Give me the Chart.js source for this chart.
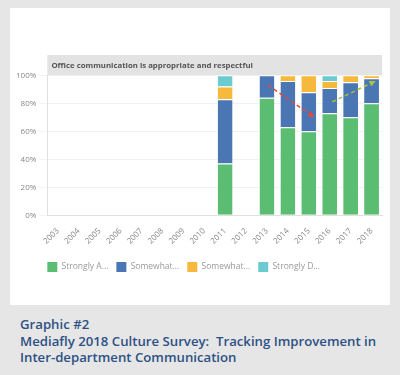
<!DOCTYPE html>
<html>
<head>
<meta charset="utf-8">
<script src="https://cdn.jsdelivr.net/npm/chart.js@4"></script>
<style>
  body { margin: 0; background: #e6e6e6; width: 400px; height: 375px; overflow: hidden; font-family: "Open Sans", sans-serif; }
  #panel { position: absolute; left: 10px; top: 8px; width: 380px; height: 297px; background: #fff; }
  #caption { position: absolute; left: 20px; top: 316px; color: #2d5185; font-size: 13.2px; font-weight: 600; line-height: 16.5px; white-space: pre; }
</style>
</head>
<body>
<div id="panel"><canvas id="chart" width="380" height="297"></canvas></div>
<div id="caption">Graphic #2
Mediafly 2018 Culture Survey:  Tracking Improvement in
Inter-department Communication</div>
<script>
const years = ['2003','2004','2005','2006','2007','2008','2009','2010','2011','2012','2013','2014','2015','2016','2017','2018'];
const stronglyAgree     = [null,null,null,null,null,null,null,null,37,null,84,63,60,73,70,80];
const somewhatAgree     = [null,null,null,null,null,null,null,null,46,null,16,33,28,18,25,18];
const somewhatDisagree  = [null,null,null,null,null,null,null,null,9,null,0,4,12,5,5,2];
const stronglyDisagree  = [null,null,null,null,null,null,null,null,8,null,0,0,0,4,0,0];
const yTicks = [0, 20, 40, 60, 80, 100];

// trend arrows: [year, offset within category, value]
const arrows = [
    { from: ['2013', 0.05, 93], to: ['2015', 0.27, 70], color: '#e8473b' },
    { from: ['2016', 0.12, 81], to: ['2018', 0.2, 96], color: '#a8c43c' }
];

const titleBg = {
    id: 'titleBg',
    beforeDraw(chart) {
        const t = chart.titleBlock;
        const ctx = chart.ctx;
        ctx.save();
        ctx.fillStyle = '#e3e3e3';
        ctx.fillRect(chart.chartArea.left, t.top, chart.chartArea.right - chart.chartArea.left, chart.chartArea.top - t.top);
        ctx.restore();
    }
};

// line the legend up with the left edge of the plot
const legendLeft = {
    id: 'legendLeft',
    afterLayout(chart) {
        const lg = chart.legend;
        const shift = lg.left - (chart.chartArea.left - lg.options.labels.padding);
        lg.left -= shift;
        lg.right -= shift;
    }
};

const trendArrows = {
    id: 'trendArrows',
    afterDatasetsDraw(chart) {
        const xs = chart.scales.x, ys = chart.scales.y;
        const w = xs.width / years.length;
        const ctx = chart.ctx;
        arrows.forEach(a => {
            const x1 = xs.getPixelForValue(years.indexOf(a.from[0])) + a.from[1] * w;
            const y1 = ys.getPixelForValue(a.from[2]);
            const x2 = xs.getPixelForValue(years.indexOf(a.to[0])) + a.to[1] * w;
            const y2 = ys.getPixelForValue(a.to[2]);
            const ang = Math.atan2(y2 - y1, x2 - x1);
            ctx.save();
            ctx.strokeStyle = a.color;
            ctx.fillStyle = a.color;
            ctx.lineWidth = 1.5;
            ctx.setLineDash([4, 3]);
            ctx.beginPath();
            ctx.moveTo(x1, y1);
            ctx.lineTo(x2 - 5 * Math.cos(ang), y2 - 5 * Math.sin(ang));
            ctx.stroke();
            ctx.setLineDash([]);
            ctx.beginPath();
            ctx.moveTo(x2, y2);
            ctx.lineTo(x2 - 7 * Math.cos(ang - 0.45), y2 - 7 * Math.sin(ang - 0.45));
            ctx.lineTo(x2 - 7 * Math.cos(ang + 0.45), y2 - 7 * Math.sin(ang + 0.45));
            ctx.closePath();
            ctx.fill();
            ctx.restore();
        });
    }
};

function ds(label, data, color) {
    return {
        label: label,
        data: data,
        backgroundColor: color,
        borderColor: 'rgba(255,255,255,0.7)',
        borderWidth: { top: 1 },
        borderSkipped: false,
        categoryPercentage: 1,
        barPercentage: 0.71
    };
}

// cut legend text to a fixed width like the original widget does
const measure = document.createElement('canvas').getContext('2d');
function shorten(text, maxW) {
    measure.font = '8.5px "Open Sans"';
    if (measure.measureText(text).width <= maxW) return text;
    let s = text;
    while (s.length > 1 && measure.measureText(s + '...').width > maxW) s = s.slice(0, -1);
    return s.trim() + '...';
}

new Chart(document.getElementById('chart'), {
    type: 'bar',
    data: {
        labels: years,
        datasets: [
            ds('Strongly Agree', stronglyAgree, '#5bbd72'),
            ds('Somewhat Agree', somewhatAgree, '#4a77b4'),
            ds('Somewhat Disagree', somewhatDisagree, '#f6b93b'),
            ds('Strongly Disagree', stronglyDisagree, '#6ccbd1')
        ]
    },
    options: {
        responsive: false,
        animation: false,
        layout: { padding: { top: 47, right: 8, bottom: 23, left: 3 } },
        plugins: {
            title: {
                display: true,
                text: '  Office communication is appropriate and respectful',
                align: 'start',
                fullSize: false,
                color: '#555',
                font: { family: 'Open Sans', size: 7.8, weight: 'bold' },
                padding: { top: 6, bottom: 5 }
            },
            legend: {
                position: 'bottom',
                align: 'start',
                fullSize: false,
                labels: {
                    boxWidth: 10,
                    boxHeight: 10,
                    padding: 8,
                    color: '#999',
                    font: { family: 'Open Sans', size: 8.5 },
                    generateLabels(chart) {
                        const items = Chart.defaults.plugins.legend.labels.generateLabels(chart);
                        items.forEach(it => {
                            it.text = shorten(it.text, 49);
                            it.lineWidth = 0;
                        });
                        return items;
                    }
                }
            },
            tooltip: { enabled: false }
        },
        scales: {
            x: {
                stacked: true,
                grid: { display: false },
                border: { color: '#e0e0e0' },
                afterFit(axis) { axis.height += 5; },
                ticks: { color: '#888', font: { family: 'Open Sans', size: 8 }, minRotation: 45, maxRotation: 45, autoSkip: false }
            },
            y: {
                stacked: true,
                min: 0,
                max: 100,
                afterBuildTicks(axis) { axis.ticks = yTicks.map(v => ({ value: v })); },
                grid: { color: '#f2f2f2' },
                border: { color: '#e0e0e0' },
                ticks: { color: '#888', font: { family: 'Open Sans', size: 8 }, callback: v => v + '%' }
            }
        }
    },
    plugins: [titleBg, legendLeft, trendArrows]
});
</script>
</body>
</html>
